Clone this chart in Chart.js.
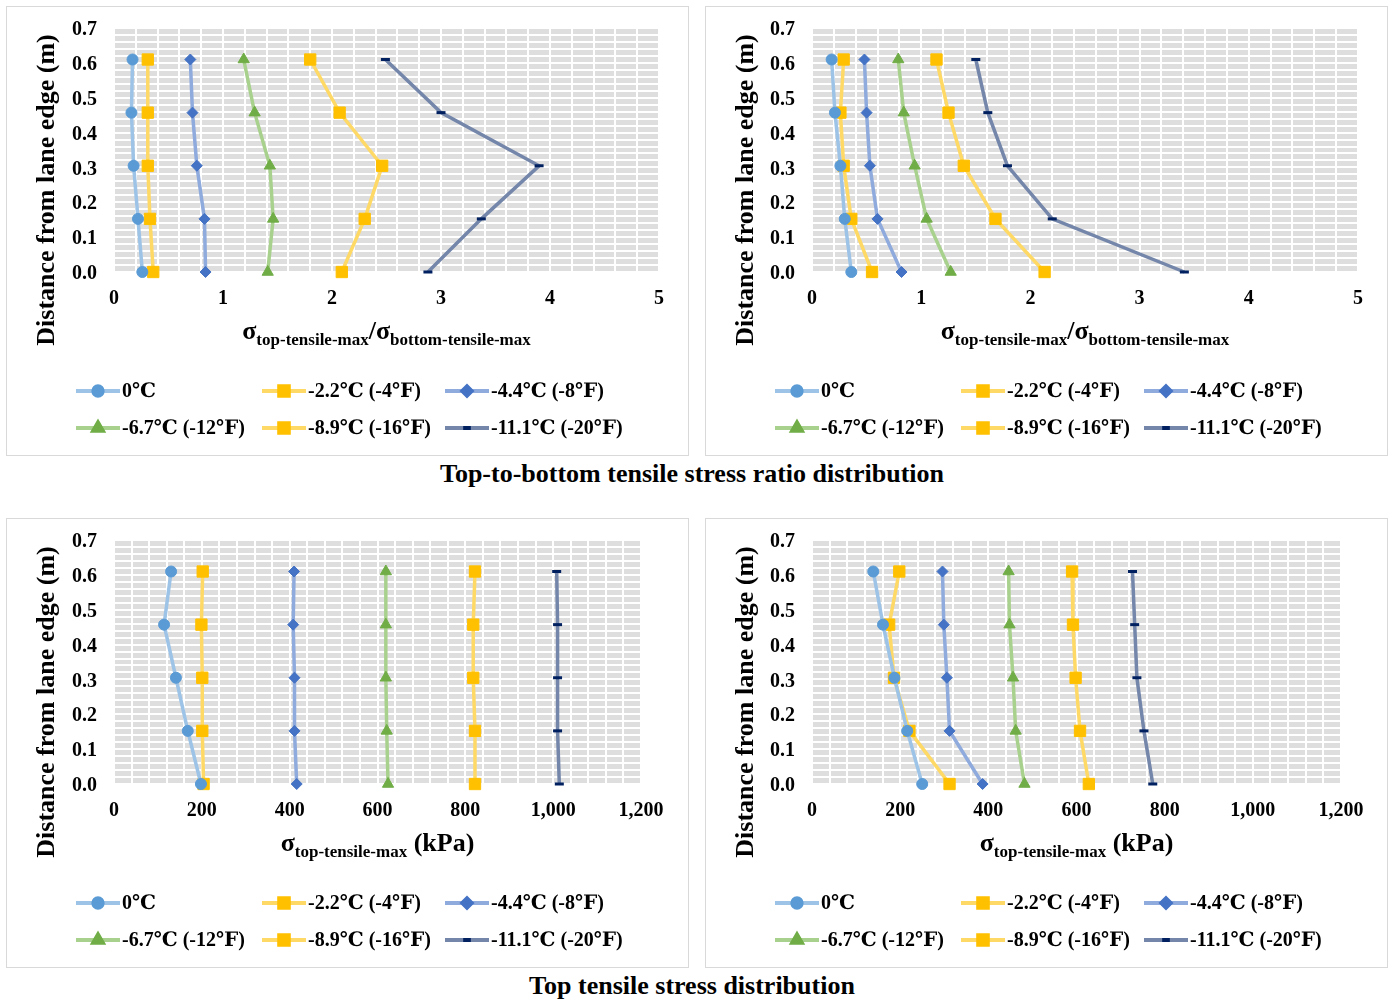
<!DOCTYPE html>
<html>
<head>
<meta charset="utf-8">
<title>Tensile stress distributions</title>
<script src="https://cdn.jsdelivr.net/npm/chart.js@4.4.1/dist/chart.umd.min.js"></script>
<style>
  body { margin: 0; background: #fff; width: 1394px; height: 1000px; position: relative; overflow: hidden;
         font-family: 'Liberation Serif', 'DejaVu Serif', serif; }
  .frame { position: absolute; width: 683px; height: 450px; border: 1px solid #d9d9d9; box-sizing: border-box; }
  canvas { position: absolute; }
  .caption { position: absolute; left: 0; width: 1384px; text-align: center; font-weight: bold;
             font-size: 26px; line-height: 30px; color: #000; }
</style>
</head>
<body>
<div class="frame" style="left:6px;top:6px"></div>
<div class="frame" style="left:705px;top:6px"></div>
<div class="frame" style="left:6px;top:518px"></div>
<div class="frame" style="left:705px;top:518px"></div>
<canvas id="ratioLeft" width="682" height="449" style="left:6px;top:6px"></canvas>
<canvas id="ratioRight" width="682" height="449" style="left:705px;top:6px"></canvas>
<canvas id="stressLeft" width="682" height="449" style="left:6px;top:518px"></canvas>
<canvas id="stressRight" width="682" height="449" style="left:705px;top:518px"></canvas>
<div class="caption" style="top:459px">Top-to-bottom tensile stress ratio distribution</div>
<div class="caption" style="top:971px">Top tensile stress distribution</div>

<script>
// distance from lane edge (m): 2 ft, 1.5 ft, 1 ft, 0.5 ft, 0
const depthM = [0.6096, 0.4572, 0.3048, 0.1524, 0];

const seriesNames = ['0\u2103', '-2.2\u2103 (-4\u2109)', '-4.4\u2103 (-8\u2109)',
                     '-6.7\u2103 (-12\u2109)', '-8.9\u2103 (-16\u2109)', '-11.1\u2103 (-20\u2109)'];

// top/bottom tensile stress ratio, one row per temperature
const ratioLeft = [
  [0.17, 0.16, 0.18, 0.22, 0.26],
  [0.31, 0.31, 0.31, 0.33, 0.36],
  [0.70, 0.72, 0.76, 0.83, 0.84],
  [1.19, 1.29, 1.43, 1.46, 1.41],
  [1.80, 2.07, 2.46, 2.30, 2.09],
  [2.49, 3.00, 3.90, 3.37, 2.88]
];
const ratioRight = [
  [0.18, 0.21, 0.26, 0.30, 0.36],
  [0.29, 0.26, 0.29, 0.36, 0.55],
  [0.48, 0.50, 0.53, 0.60, 0.82],
  [0.79, 0.84, 0.94, 1.05, 1.27],
  [1.14, 1.25, 1.39, 1.68, 2.13],
  [1.50, 1.61, 1.79, 2.20, 3.41]
];

// top tensile stress (kPa)
const stressLeft = [
  [130, 114, 141, 168, 198],
  [202, 199, 201, 201, 204],
  [410, 408, 411, 411, 416],
  [619, 619, 619, 621, 624],
  [822, 818, 818, 822, 822],
  [1008, 1010, 1010, 1010, 1014]
];
const stressRight = [
  [139, 161, 187, 216, 250],
  [198, 175, 186, 221, 312],
  [296, 299, 306, 312, 387],
  [446, 448, 456, 462, 482],
  [590, 592, 598, 608, 628],
  [727, 732, 737, 753, 773]
];

const FONT = "'Liberation Serif', 'DejaVu Serif', serif";

// Excel-like styling per series
const styles = [
  { line: '#9dc3e6', mark: '#5b9bd5', shape: 'circle',   r: 5.5 },
  { line: '#ffd966', mark: '#ffc000', shape: 'rect',     r: 8 },
  { line: '#8faadc', mark: '#4472c4', shape: 'rectRot',  r: 5.5 },
  { line: '#a9d18e', mark: '#70ad47', shape: 'triangle', r: 6.5 },
  { line: '#ffd966', mark: '#ffc000', shape: 'rect',     r: 8 },
  { line: '#7486aa', mark: '#002060', shape: 'line',     r: 4.5 }
];

Chart.defaults.font.family = FONT;
Chart.defaults.font.weight = 'bold';
Chart.defaults.color = '#000';

const decor = {
  id: 'decor',
  beforeDraw(chart) {
    const { ctx, chartArea: a } = chart;
    ctx.save();
    ctx.fillStyle = '#dedede';
    ctx.fillRect(a.left, a.top, a.width, a.height);
    ctx.restore();
  },
  afterDraw(chart, args, opts) {
    const ctx = chart.ctx, a = chart.chartArea;

    // y axis title
    ctx.save();
    ctx.translate(41, 184);
    ctx.rotate(-Math.PI / 2);
    ctx.font = 'bold 26px ' + FONT;
    ctx.fillStyle = '#000';
    ctx.textAlign = 'center';
    ctx.textBaseline = 'middle';
    ctx.fillText('Distance from lane edge (m)', 0, 0);
    ctx.restore();

    // x axis title with subscripts
    ctx.save();
    ctx.fillStyle = '#000';
    ctx.textBaseline = 'alphabetic';
    const parts = opts.xTitle.map(p => ({ ...p, font: 'bold ' + (p.sub ? 17 : 26) + 'px ' + FONT }));
    let total = 0;
    parts.forEach(p => { ctx.font = p.font; p.w = ctx.measureText(p.t).width; total += p.w; });
    let x = (a.left + a.right) / 2 - total / 2;
    parts.forEach(p => {
      ctx.font = p.font;
      ctx.fillText(p.t, x, p.sub ? 339 : 333);
      x += p.w;
    });
    ctx.restore();

    // legend, 3 columns x 2 rows
    const cols = [70, 256, 439], rows = [385, 422];
    ctx.save();
    seriesNames.forEach((name, i) => {
      const s = styles[i];
      const lx = cols[i % 3], ly = rows[Math.floor(i / 3)];
      ctx.strokeStyle = s.line;
      ctx.lineWidth = 4;
      ctx.beginPath();
      ctx.moveTo(lx, ly);
      ctx.lineTo(lx + 44, ly);
      ctx.stroke();
      ctx.fillStyle = s.mark;
      ctx.strokeStyle = s.mark;
      Chart.helpers.drawPoint(ctx, { pointStyle: s.shape, radius: s.r * 0.85, rotation: 0,
                                     borderWidth: s.shape === 'line' ? 3 : 1 }, lx + 22, ly);
      ctx.fillStyle = '#000';
      ctx.font = 'bold 20px ' + FONT;
      ctx.textAlign = 'left';
      ctx.textBaseline = 'middle';
      ctx.fillText(name, lx + 46, ly + 1);
    });
    ctx.restore();
  }
};

function makePanel(id, rows, xMax, xStep, labelEvery, fmt, xTitle, leftW, rightPad) {
  const datasets = rows.map((vals, i) => {
    const s = styles[i];
    return {
      label: seriesNames[i],
      data: vals.map((v, k) => ({ x: v, y: depthM[k] })),
      showLine: true,
      borderColor: s.line,
      borderWidth: 3.5,
      pointStyle: s.shape,
      pointRadius: s.r,
      pointBackgroundColor: s.mark,
      pointBorderColor: s.mark,
      pointBorderWidth: s.shape === 'line' ? 3 : 1,
      clip: false
    };
  });

  return new Chart(document.getElementById(id), {
    type: 'scatter',
    data: { datasets },
    options: {
      responsive: false,
      animation: false,
      events: [],
      layout: { padding: { left: 0, top: 22, right: rightPad, bottom: 0 } },
      scales: {
        x: {
          type: 'linear', min: 0, max: xMax,
          grid: { color: '#ffffff', lineWidth: 2, drawTicks: false },
          border: { display: false },
          ticks: {
            stepSize: xStep, autoSkip: false, maxRotation: 0, padding: 15,
            font: { size: 20, weight: 'bold' },
            callback: v => (Math.abs(v / labelEvery - Math.round(v / labelEvery)) < 1e-6 ? fmt(v) : '')
          },
          afterFit: s => { s.height = 183; s.paddingLeft = 0; s.paddingRight = 0; }
        },
        y: {
          type: 'linear', min: 0, max: 0.7,
          grid: { color: '#ffffff', lineWidth: 2, drawTicks: false },
          border: { display: false },
          ticks: {
            stepSize: 0.02, autoSkip: false, padding: 17, labelOffset: 2,
            font: { size: 20, weight: 'bold' },
            callback: v => (Math.abs(v * 10 - Math.round(v * 10)) < 1e-6 ? v.toFixed(1) : '')
          },
          afterFit: s => { s.width = leftW; s.paddingTop = 0; s.paddingBottom = 0; }
        }
      },
      plugins: {
        legend: { display: false },
        tooltip: { enabled: false },
        decor: { xTitle }
      }
    },
    plugins: [decor]
  });
}

const ratioTitle = [
  { t: '\u03c3' }, { t: 'top-tensile-max', sub: true },
  { t: '/\u03c3' }, { t: 'bottom-tensile-max', sub: true }
];
const stressTitle = [
  { t: '\u03c3' }, { t: 'top-tensile-max', sub: true }, { t: ' (kPa)' }
];
const plain = v => String(Math.round(v));
const thousands = v => Math.round(v).toLocaleString('en-US');

makePanel('ratioLeft', ratioLeft, 5, 0.2, 1, plain, ratioTitle, 108, 29);
makePanel('ratioRight', ratioRight, 5, 0.2, 1, plain, ratioTitle, 107, 29);
makePanel('stressLeft', stressLeft, 1200, 40, 200, thousands, stressTitle, 108, 47);
makePanel('stressRight', stressRight, 1200, 40, 200, thousands, stressTitle, 107, 46);
</script>
</body>
</html>
